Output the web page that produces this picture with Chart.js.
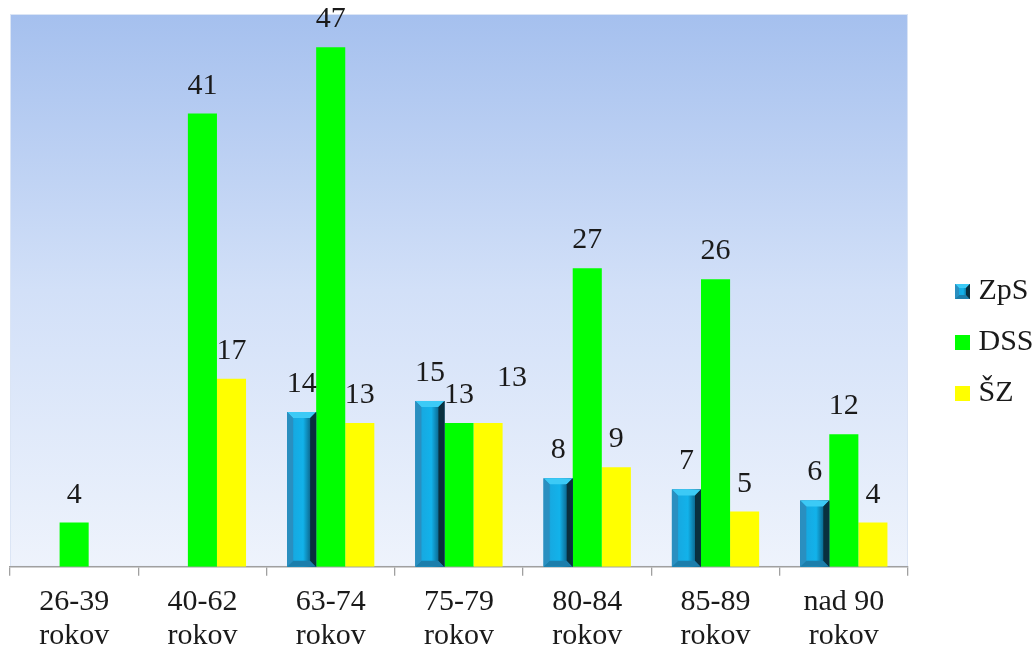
<!DOCTYPE html>
<html>
<head>
<meta charset="utf-8">
<script src="https://cdn.jsdelivr.net/npm/chart.js@4.4.0/dist/chart.umd.min.js"></script>
<style>
  html, body { margin: 0; padding: 0; background: #fff; overflow: hidden; }
  #wrap { width: 1035px; height: 648px; }
</style>
</head>
<body>
<div id="wrap"><canvas id="chart"></canvas></div>
<script>
const categories = [
  ['26-39', 'rokov'],
  ['40-62', 'rokov'],
  ['63-74', 'rokov'],
  ['75-79', 'rokov'],
  ['80-84', 'rokov'],
  ['85-89', 'rokov'],
  ['nad 90', 'rokov']
]
const seriesNames = ['ZpS', 'DSS', 'ŠZ']
const zpsValues = [null, null, 14, 15, 8, 7, 6]
const dssValues = [4, 41, 47, 13, 27, 26, 12]
const szValues = [null, 17, 13, 13, 9, 5, 4]
const yMax = 50

const serif = 'Liberation Serif, Times New Roman, serif'
const fontSize = 30

// draws the bevelled blue block used for ZpS (bars and legend box)
function drawBevel(ctx, l, t, r, b, bv) {
  const face = ctx.createLinearGradient(l, 0, r, 0)
  face.addColorStop(0, '#2484b4')
  face.addColorStop(0.25, '#16aae2')
  face.addColorStop(0.55, '#12b2ea')
  face.addColorStop(0.8, '#0c6a92')
  face.addColorStop(1, '#06293b')
  ctx.fillStyle = face
  ctx.fillRect(l, t, r - l, b - t)

  const poly = (pts, color) => {
    ctx.beginPath()
    ctx.moveTo(pts[0][0], pts[0][1])
    for (let k = 1; k < pts.length; k++) ctx.lineTo(pts[k][0], pts[k][1])
    ctx.closePath()
    ctx.fillStyle = color
    ctx.fill()
  }
  poly([[l, t], [r, t], [r - bv, t + bv], [l + bv, t + bv]], '#3ccaf6')
  poly([[l, b], [r, b], [r - bv, b - bv], [l + bv, b - bv]], '#1c7eab')
  poly([[l, t], [l + bv, t + bv], [l + bv, b - bv], [l, b]], '#2a8fc0')
  poly([[r, t], [r - bv, t + bv], [r - bv, b - bv], [r, b]], '#09303f')
}

function legendBox(kind) {
  const c = document.createElement('canvas')
  c.width = 15
  c.height = 15
  const g = c.getContext('2d')
  if (kind === 0) {
    drawBevel(g, 0, 0, 15, 15, 4)
  } else {
    g.fillStyle = kind === 1 ? '#00ff00' : '#ffff00'
    g.fillRect(0, 0, 15, 15)
  }
  return c
}
const legendImages = [legendBox(0), legendBox(1), legendBox(2)]

// gradient behind the plot area
const plotBackground = {
  id: 'plotBackground',
  beforeDraw(chart) {
    const { ctx, chartArea: a } = chart
    const g = ctx.createLinearGradient(0, a.top, 0, a.bottom)
    g.addColorStop(0, '#a5c0ee')
    g.addColorStop(0.5, '#d2e0f8')
    g.addColorStop(1, '#eef3fc')
    ctx.save()
    ctx.fillStyle = g
    ctx.fillRect(a.left, a.top, a.right - a.left, a.bottom - a.top)
    ctx.strokeStyle = '#dbe5f5'
    ctx.lineWidth = 1
    ctx.strokeRect(a.left + 0.5, a.top + 0.5, a.right - a.left - 1, a.bottom - a.top - 1)
    ctx.restore()
  }
}

// bevel on the ZpS bars, then value labels above every bar
const barDecor = {
  id: 'barDecor',
  afterDatasetsDraw(chart) {
    const ctx = chart.ctx
    ctx.save()

    chart.getDatasetMeta(0).data.forEach((bar, j) => {
      if (zpsValues[j] == null) return
      const { x, y, base, width } = bar.getProps(['x', 'y', 'base', 'width'], true)
      drawBevel(ctx, x - width / 2, y, x + width / 2, base, 6)
    })

    ctx.font = fontSize + 'px ' + serif
    ctx.fillStyle = '#1a1a1a'
    ctx.textAlign = 'center'
    ctx.textBaseline = 'alphabetic'
    const placed = []
    chart.data.datasets.forEach((ds, i) => {
      chart.getDatasetMeta(i).data.forEach((bar, j) => {
        const v = ds.data[j]
        if (v == null) return
        const txt = String(v)
        const w = ctx.measureText(txt).width
        let cx = bar.x
        let by = bar.y - 20
        // nudge a label that would run into one already drawn
        const hit = placed.some(p => Math.abs(p.x - cx) < (p.w + w) / 2 && Math.abs(p.y - by) < 20)
        if (hit) {
          cx += 24
          by -= 17
        }
        placed.push({ x: cx, y: by, w })
        ctx.fillText(txt, cx, by)
      })
    })
    ctx.restore()
  }
}

// move the legend block right and down, as in the original
const legendShift = {
  id: 'legendShift',
  afterLayout(chart) {
    const lg = chart.legend
    if (!lg) return
    lg.left += 32.5
    lg.right += 32.5
    lg.top += 11.5
    lg.bottom += 11.5
  }
}

new Chart(document.getElementById('chart'), {
  type: 'bar',
  data: {
    labels: categories,
    datasets: [
      { label: seriesNames[0], data: zpsValues, backgroundColor: '#1596c8' },
      { label: seriesNames[1], data: dssValues, backgroundColor: '#00ff00' },
      { label: seriesNames[2], data: szValues, backgroundColor: '#ffff00' }
    ]
  },
  options: {
    responsive: true,
    maintainAspectRatio: false,
    animation: false,
    layout: { padding: { top: 14, left: 10, right: 24, bottom: 0 } },
    datasets: {
      bar: { categoryPercentage: 0.68, barPercentage: 1, borderWidth: 0 }
    },
    scales: {
      x: {
        // labels may run into the bottom margin, so reserve less room
        afterFit(scale) { scale.height -= 15 },
        grid: {
          offset: true,
          drawOnChartArea: false,
          tickLength: 9,
          color: '#a0a0a0',
          lineWidth: 1.3
        },
        border: { display: true, color: '#a0a0a0', width: 1.5 },
        ticks: {
          color: '#1a1a1a',
          font: { family: serif, size: fontSize, lineHeight: 1.12 },
          padding: 10,
          maxRotation: 0,
          autoSkip: false
        }
      },
      y: { display: false, min: 0, max: yMax }
    },
    plugins: {
      legend: {
        position: 'right',
        labels: {
          font: { family: serif, size: fontSize },
          color: '#1a1a1a',
          usePointStyle: true,
          pointStyleWidth: 2,
          padding: 21,
          generateLabels(chart) {
            const items = Chart.defaults.plugins.legend.labels.generateLabels(chart)
            items.forEach((it, i) => { it.pointStyle = legendImages[i] })
            return items
          }
        }
      },
      tooltip: { enabled: false }
    }
  },
  plugins: [plotBackground, barDecor, legendShift]
})
</script>
</body>
</html>
